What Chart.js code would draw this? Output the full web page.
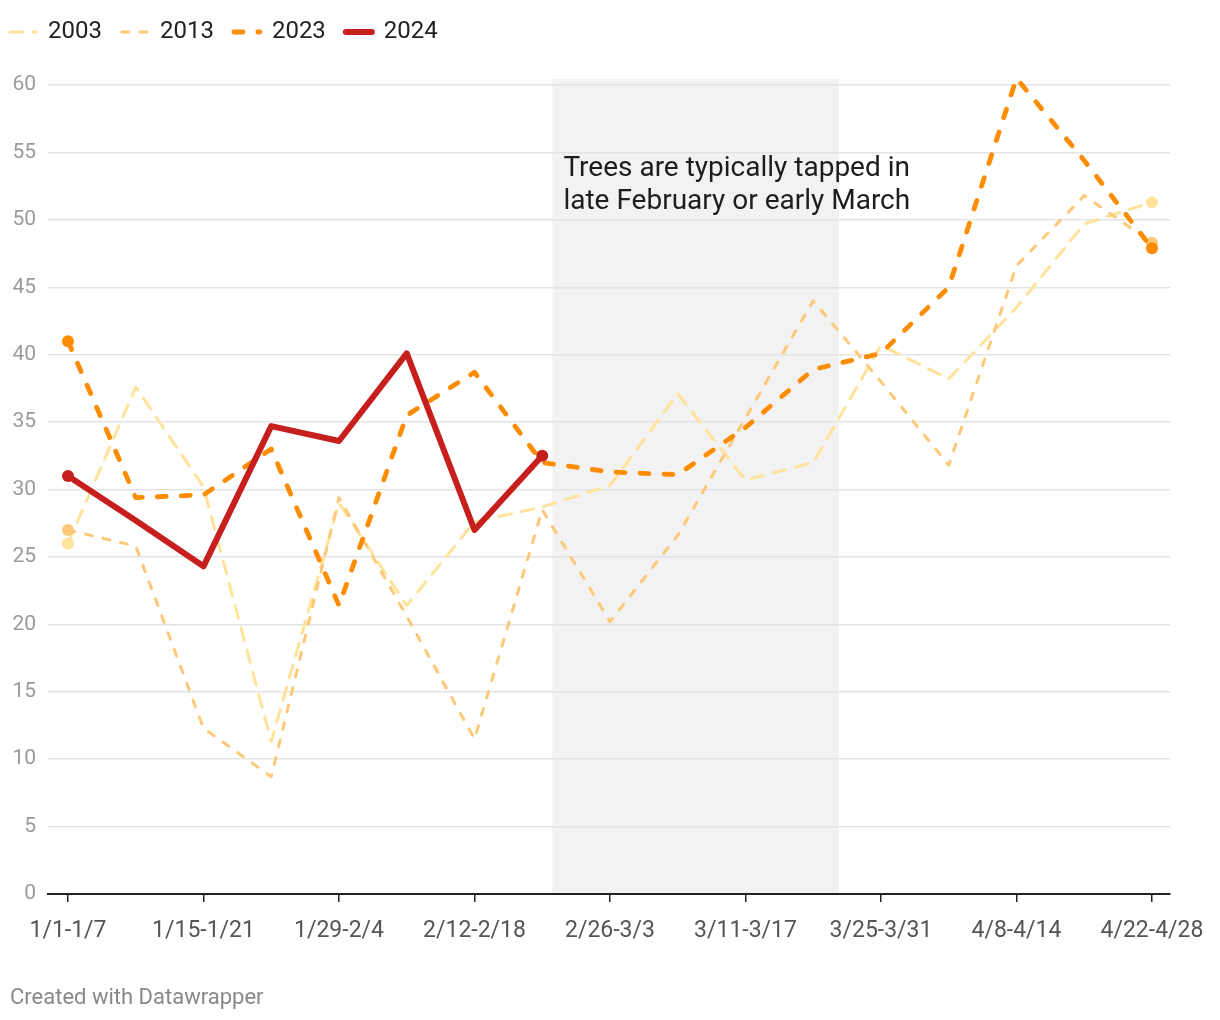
<!DOCTYPE html>
<html>
<head>
<meta charset="utf-8">
<script src="https://cdn.jsdelivr.net/npm/chart.js@4.4.1/dist/chart.umd.min.js"></script>
<style>
  body { margin: 0; background: #fff; font-family: Roboto, sans-serif; }
  #wrap { position: relative; width: 1220px; height: 1020px; }
  #credit { position: absolute; left: 10px; top: 984px; font-size: 22px; color: #888; }
</style>
</head>
<body>
<div id="wrap">
  <canvas id="sapChart"></canvas>
  <div id="credit">Created with Datawrapper</div>
</div>
<script>
const weeks = ['1/1-1/7', '1/8-1/14', '1/15-1/21', '1/22-1/28', '1/29-2/4', '2/5-2/11', '2/12-2/18', '2/19-2/25',
  '2/26-3/3', '3/4-3/10', '3/11-3/17', '3/18-3/24', '3/25-3/31', '4/1-4/7', '4/8-4/14', '4/15-4/21', '4/22-4/28'];
const labelledWeeks = [0, 2, 4, 6, 8, 10, 12, 14, 16];
const yTicks = [0, 5, 10, 15, 20, 25, 30, 35, 40, 45, 50, 55, 60];

const v2003 = [26.0, 37.6, 30.2, 11.3, 29.0, 21.4, 27.6, 28.7, 30.3, 37.1, 30.7, 32.0, 40.7, 38.2, 43.5, 49.7, 51.3];
const v2013 = [27.0, 25.8, 12.3, 8.7, 29.4, 20.6, 11.5, 28.5, 20.2, 26.6, 35.3, 44.0, 38.0, 31.8, 46.6, 51.8, 48.3];
const v2023 = [41.0, 29.4, 29.6, 33.0, 21.4, 35.5, 38.7, 32.0, 31.3, 31.1, 34.6, 38.9, 40.1, 45.0, 60.5, 54.4, 47.9];
const v2024 = [31.0, 27.7, 24.3, 34.7, 33.6, 40.1, 27.0, 32.5, null, null, null, null, null, null, null, null, null];

// tapping season, in week-index units, and the top of its band
const tapFrom = 7.15;
const tapTo = 11.38;
const tapTop = 60.45;
const tapNote = ['Trees are typically tapped in', 'late February or early March'];

function lastIdx(arr) {
  let k = arr.length - 1;
  while (k > 0 && arr[k] == null) k--;
  return k;
}
function endDots(arr) {
  const last = lastIdx(arr);
  return c => (c.dataIndex === 0 || c.dataIndex === last) ? 6 : 0;
}
function toXY(arr) {
  return arr.map((v, i) => ({ x: i, y: v }));
}
function line(label, arr, color, width, dash, order) {
  return {
    label: label,
    data: toXY(arr),
    borderColor: color,
    backgroundColor: color,
    pointBackgroundColor: color,
    borderWidth: width,
    borderDash: dash,
    borderCapStyle: 'round',
    borderJoinStyle: 'round',
    pointRadius: endDots(arr),
    pointBorderWidth: 0,
    pointHoverRadius: 0,
    tension: 0,
    spanGaps: false,
    clip: false,
    order: order
  };
}

const tapShade = {
  id: 'tapShade',
  beforeDraw(chart) {
    const { ctx, chartArea, scales } = chart;
    const x0 = scales.x.getPixelForValue(tapFrom);
    const x1 = scales.x.getPixelForValue(tapTo);
    const yTop = scales.y.getPixelForValue(tapTop);
    ctx.save();
    ctx.fillStyle = '#f2f2f2';
    ctx.fillRect(x0, yTop, x1 - x0, chartArea.bottom - yTop);
    ctx.restore();
  },
  beforeDatasetsDraw(chart) {
    const { ctx, scales } = chart;
    const x0 = scales.x.getPixelForValue(tapFrom) + 11;
    const y0 = scales.y.getPixelForValue(53.8);
    ctx.save();
    ctx.fillStyle = '#1d1d1d';
    ctx.font = '28px Roboto';
    ctx.textBaseline = 'middle';
    tapNote.forEach((t, i) => ctx.fillText(t, x0, y0 + i * 33));
    ctx.restore();
  }
};

const ctx = document.getElementById('sapChart').getContext('2d');
const sapChart = new Chart(ctx, {
  type: 'line',
  data: {
    datasets: [
      line('2003', v2003, '#ffe39b', 3, [13, 10], 4),
      line('2013', v2013, '#fec878', 3, [7, 11], 3),
      line('2023', v2023, '#fd8c00', 4.8, [9, 15], 2),
      line('2024', v2024, '#c71e1e', 6, [], 1)
    ]
  },
  options: {
    responsive: true,
    maintainAspectRatio: false,
    animation: false,
    layout: { padding: { left: -10, right: 50, top: 0, bottom: 66 } },
    plugins: {
      tooltip: { enabled: false },
      legend: {
        align: 'start',
        labels: {
          usePointStyle: true,
          pointStyleWidth: 26,
          padding: 20,
          color: '#222',
          font: { family: 'Roboto', size: 24 },
          generateLabels: chart => chart.data.datasets.map((d, i) => ({
            text: d.label,
            datasetIndex: i,
            hidden: false,
            pointStyle: 'line',
            strokeStyle: d.borderColor,
            fillStyle: d.borderColor,
            fontColor: '#222',
            lineWidth: d.borderWidth,
            lineDash: d.borderDash,
            lineCap: 'round'
          }))
        }
      }
    },
    scales: {
      x: {
        type: 'linear',
        min: -0.295,
        max: 16.266,
        afterBuildTicks: s => { s.ticks = labelledWeeks.map(v => ({ value: v })); },
        afterFit: s => { s.height = 60; },
        ticks: {
          callback: v => weeks[v],
          color: '#555',
          font: { family: 'Roboto', size: 23 },
          padding: 15,
          maxRotation: 0,
          autoSkip: false
        },
        grid: { drawOnChartArea: false, drawTicks: true, tickLength: 8, color: '#222', lineWidth: 1.5 },
        border: { color: '#222', width: 2 }
      },
      y: {
        min: 0,
        max: 62.3,
        afterBuildTicks: s => { s.ticks = yTicks.map(v => ({ value: v })); },
        afterFit: s => { s.width = 58; },
        ticks: {
          color: '#9a9a9a',
          font: { family: 'Roboto', size: 21 },
          padding: 12
        },
        grid: { color: '#e3e3e3', lineWidth: 1.5, drawTicks: false },
        border: { display: false }
      }
    }
  },
  plugins: [tapShade]
});
</script>
</body>
</html>
